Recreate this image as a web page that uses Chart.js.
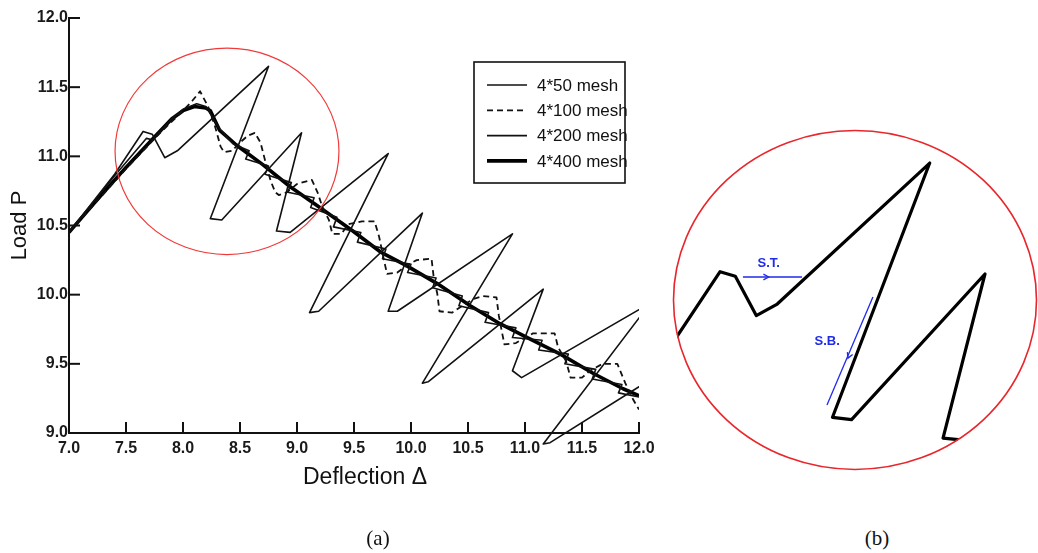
<!DOCTYPE html>
<html><head><meta charset="utf-8">
<script src="https://cdn.jsdelivr.net/npm/chart.js@4.4.1/dist/chart.umd.min.js"></script>
<style>
html,body{margin:0;padding:0;background:#fff;}
#wrap{position:relative;width:1038px;height:553px;overflow:hidden;background:#fff;}
#c1{position:absolute;left:0;top:0;}
#c2{position:absolute;left:660px;top:120px;}
.lab{position:absolute;top:526px;font-family:'Liberation Serif','Times New Roman',serif;font-size:21px;color:#111;width:60px;text-align:center;}
</style></head><body>
<div id="wrap">
<canvas id="c1" width="700" height="553"></canvas>
<canvas id="c2" width="378" height="360"></canvas>
<div class="lab" style="left:348px">(a)</div>
<div class="lab" style="left:847px">(b)</div>
</div>
<script>
// ---------- data ----------
const xTickLabels = ['7.0','7.5','8.0','8.5','9.0','9.5','10.0','10.5','11.0','11.5','12.0'];
const yTickLabels = ['9.0','9.5','10.0','10.5','11.0','11.5','12.0'];
const seriesNames = ['4*50 mesh','4*100 mesh','4*200 mesh','4*400 mesh'];
const xTitle = 'Deflection Δ';
const yTitle = 'Load P';

const mesh50 = [[7.0,10.45],[7.40,10.87],[7.65,11.18],[7.73,11.16],[7.84,10.99],[7.95,11.04],[8.75,11.65],
  [8.24,10.55],[8.34,10.54],[9.04,11.17],[8.82,10.46],[8.94,10.45],[9.80,11.02],[9.11,9.87],[9.19,9.88],
  [10.10,10.59],[9.80,9.88],[9.88,9.88],[10.89,10.44],[10.10,9.36],[10.15,9.37],[11.16,10.04],[10.89,9.45],
  [10.97,9.40],[12.10,9.94],[11.16,8.92],[11.22,8.93],[12.05,9.36]];

const mesh100 = [[7.0,10.45],[7.5,10.91],[7.8,11.17],[8.0,11.33],[8.08,11.40],[8.15,11.47],[8.22,11.36],[8.28,11.22],
  [8.33,11.07],[8.36,11.03],[8.43,11.04],[8.50,11.10],[8.57,11.15],[8.63,11.17],[8.68,11.10],[8.72,10.97],[8.77,10.82],
  [8.81,10.74],[8.84,10.72],[8.91,10.74],[9.0,10.80],[9.13,10.83],[9.18,10.74],[9.22,10.64],[9.28,10.54],[9.31,10.44],
  [9.39,10.44],[9.45,10.51],[9.57,10.53],[9.68,10.53],[9.72,10.42],[9.76,10.26],[9.79,10.15],[9.88,10.16],[9.96,10.21],
  [10.05,10.25],[10.18,10.26],[10.20,10.12],[10.23,10.01],[10.25,9.88],[10.36,9.87],[10.45,9.92],[10.55,9.97],[10.63,9.99],
  [10.75,9.98],[10.77,9.85],[10.80,9.72],[10.82,9.64],[10.92,9.65],[10.98,9.68],[11.07,9.72],[11.26,9.72],[11.29,9.62],
  [11.36,9.52],[11.40,9.40],[11.50,9.40],[11.57,9.45],[11.68,9.50],[11.81,9.50],[11.88,9.36],[11.95,9.24],[12.0,9.17]];

const mesh200 = [[7.0,10.45],[7.4,10.86],[7.68,11.13],[7.73,11.12],[7.9,11.27],[8.0,11.34],[8.12,11.38],[8.2,11.36],
  [8.32,11.20],[8.44,11.09],[8.58,11.04],[8.55,10.98],[8.75,10.93],[8.72,10.87],[8.95,10.81],[8.92,10.74],[9.15,10.70],
  [9.12,10.63],[9.35,10.56],[9.32,10.49],[9.56,10.45],[9.53,10.38],[9.78,10.33],[9.75,10.26],[10.0,10.22],[9.97,10.16],
  [10.22,10.12],[10.19,10.05],[10.45,9.99],[10.42,9.92],[10.68,9.87],[10.65,9.80],[10.92,9.76],[10.89,9.69],[11.15,9.67],
  [11.12,9.60],[11.38,9.57],[11.35,9.50],[11.62,9.46],[11.59,9.39],[11.85,9.35],[11.82,9.29],[12.0,9.26]];

const mesh400 = [[7.0,10.45],[7.25,10.69],[7.5,10.92],[7.75,11.14],[7.9,11.27],[8.0,11.33],[8.1,11.36],[8.2,11.35],
  [8.24,11.33],[8.32,11.19],[8.47,11.08],[8.70,10.94],[8.94,10.78],[9.2,10.63],[9.49,10.46],[9.73,10.31],[9.96,10.21],
  [10.23,10.08],[10.52,9.92],[10.78,9.79],[11.02,9.69],[11.31,9.57],[11.6,9.43],[11.86,9.32],[12.0,9.27]];

// magnified region (red circle): centre and radii in data units
const zoomCenter = [8.386, 11.036];
const zoomRadius = [0.982, 0.746];
// panel (b) window
const zoomXRange = [7.403, 9.313];
const zoomYRange = [10.322, 11.793];
// panel (b) annotations (data units)
const stLine = [[7.770,11.157],[8.080,11.157]];
const stArrow = [7.905,11.157];
const stText = [7.905,11.215];
const sbLine = [[8.452,11.070],[8.211,10.603]];
const sbArrow = [8.321,10.806];
const sbText = [8.212,10.880];

const toXY = arr => arr.map(p => ({x:p[0], y:p[1]}));
const FONT = "'Liberation Sans', Arial, Helvetica, sans-serif";
Chart.defaults.font.family = FONT;
Chart.defaults.color = '#111';

// ---------- plugins ----------
const inwardTicks = {
  id:'inwardTicks',
  afterDraw(chart, args, o){
    const {ctx, chartArea:a, scales:{x,y}} = chart;
    ctx.save(); ctx.strokeStyle='#111'; ctx.lineWidth=2;
    x.ticks.forEach(t=>{const p=x.getPixelForValue(t.value); ctx.beginPath(); ctx.moveTo(p,a.bottom); ctx.lineTo(p,a.bottom-o.len); ctx.stroke();});
    y.ticks.forEach(t=>{const p=y.getPixelForValue(t.value); ctx.beginPath(); ctx.moveTo(a.left,p); ctx.lineTo(a.left+o.len,p); ctx.stroke();});
    ctx.restore();
  }
};
const xAxisTitle = {
  id:'xAxisTitle',
  afterDraw(chart, args, o){
    const {ctx, chartArea:a} = chart;
    ctx.save(); ctx.fillStyle='#111'; ctx.font=o.size+'px '+FONT;
    ctx.textAlign='center'; ctx.textBaseline='middle';
    ctx.fillText(o.text, (a.left+a.right)/2 + o.dx, a.bottom + o.dy);
    ctx.restore();
  }
};
const redCircle = {
  id:'redCircle',
  afterDatasetsDraw(chart, args, o){
    const {ctx, scales:{x,y}} = chart;
    const cx=x.getPixelForValue(zoomCenter[0]), cy=y.getPixelForValue(zoomCenter[1]);
    const rx=Math.abs(x.getPixelForValue(zoomCenter[0]+zoomRadius[0])-cx);
    const ry=Math.abs(y.getPixelForValue(zoomCenter[1]+zoomRadius[1])-cy);
    ctx.save(); ctx.strokeStyle=o.color; ctx.lineWidth=o.width;
    ctx.beginPath(); ctx.ellipse(cx,cy,rx,ry,0,0,Math.PI*2); ctx.stroke(); ctx.restore();
  }
};
const boxLegend = {
  id:'boxLegend',
  afterDraw(chart, args, o){
    const {ctx} = chart;
    ctx.save();
    ctx.strokeStyle='#111'; ctx.lineWidth=1.6;
    ctx.strokeRect(o.left, o.top, o.width, o.height);
    ctx.font = o.fontSize+'px '+FONT; ctx.fillStyle='#111'; ctx.textBaseline='middle'; ctx.textAlign='left';
    chart.data.datasets.forEach((ds,i)=>{
      const yy = o.top + o.firstRow + i*o.rowGap;
      ctx.save();
      ctx.strokeStyle=ds.borderColor; ctx.lineWidth=ds.borderWidth;
      ctx.setLineDash(ds.borderDash||[]);
      ctx.beginPath(); ctx.moveTo(o.left+o.sampleX, yy); ctx.lineTo(o.left+o.sampleX+o.sampleW, yy); ctx.stroke();
      ctx.restore();
      ctx.fillText(ds.label, o.left+o.textX, yy+1);
    });
    ctx.restore();
  }
};

// ---------- panel (a) ----------
new Chart(document.getElementById('c1'), {
  type:'line',
  data:{ datasets:[
    {label:seriesNames[0], data:toXY(mesh50), borderColor:'#111', borderWidth:1.6, clip:{left:0,top:0,right:0,bottom:15}},
    {label:seriesNames[1], data:toXY(mesh100), borderColor:'#111', borderWidth:1.8, borderDash:[6,4]},
    {label:seriesNames[2], data:toXY(mesh200), borderColor:'#111', borderWidth:1.6},
    {label:seriesNames[3], data:toXY(mesh400), borderColor:'#000', borderWidth:3.6}
  ]},
  options:{
    responsive:false, animation:false, devicePixelRatio:1,
    elements:{point:{radius:0}, line:{tension:0, borderJoinStyle:'round'}},
    layout:{padding:{left:0, top:18, right:61, bottom:60}},
    plugins:{legend:{display:false}, tooltip:{enabled:false},
      inwardTicks:{len:11},
      xAxisTitle:{text:xTitle, size:23, dx:11, dy:45},
      redCircle:{color:'#f03a3a', width:1.2},
      boxLegend:{left:474, top:62, width:151, height:121, firstRow:23, rowGap:25.3, sampleX:13, sampleW:40, textX:63, fontSize:17}
    },
    scales:{
      x:{type:'linear', min:7, max:12,
        afterFit:s=>{s.height=60;},
        grid:{display:false, drawTicks:false},
        border:{display:true, color:'#111', width:2},
        ticks:{stepSize:0.5, padding:6, maxRotation:0, autoSkip:false, font:{size:16, weight:'bold'}, color:'#1a1a1a',
          callback:(v,i)=>xTickLabels[i]},
        title:{display:false}
      },
      y:{type:'linear', min:9, max:12,
        afterFit:s=>{s.width=69;},
        grid:{display:false, drawTicks:false},
        border:{display:true, color:'#111', width:2},
        ticks:{stepSize:0.5, padding:1, autoSkip:false, font:{size:16, weight:'bold'}, color:'#1a1a1a',
          callback:(v,i)=>yTickLabels[i]},
        title:{display:true, text:yTitle, font:{size:22}, color:'#111', padding:{top:7,bottom:0}}
      }
    }
  },
  plugins:[inwardTicks, redCircle, boxLegend, xAxisTitle]
});

// ---------- panel (b) ----------
function ellipseOf(chart){
  const a = chart.chartArea;
  return {cx:(a.left+a.right)/2, cy:(a.top+a.bottom)/2, rx:(a.right-a.left)/2, ry:(a.bottom-a.top)/2};
}
const clipEllipse = {
  id:'clipEllipse',
  beforeDatasetsDraw(chart){
    const {ctx} = chart; const e = ellipseOf(chart);
    ctx.save(); ctx.beginPath(); ctx.ellipse(e.cx,e.cy,e.rx,e.ry,0,0,Math.PI*2); ctx.clip();
  },
  afterDatasetsDraw(chart, args, o){
    const {ctx} = chart; ctx.restore();
    const e = ellipseOf(chart);
    ctx.save(); ctx.strokeStyle=o.color; ctx.lineWidth=o.width;
    ctx.beginPath(); ctx.ellipse(e.cx,e.cy,e.rx-0.5,e.ry-0.5,0,0,Math.PI*2); ctx.stroke(); ctx.restore();
  }
};
function arrowHead(ctx, x, y, ang, s){
  ctx.beginPath();
  ctx.moveTo(x - s*Math.cos(ang-0.5), y - s*Math.sin(ang-0.5));
  ctx.lineTo(x, y);
  ctx.lineTo(x - s*Math.cos(ang+0.5), y - s*Math.sin(ang+0.5));
  ctx.stroke();
}
const blueNotes = {
  id:'blueNotes',
  afterDraw(chart, args, o){
    const {ctx, scales:{x,y}} = chart;
    const P = p => [x.getPixelForValue(p[0]), y.getPixelForValue(p[1])];
    ctx.save(); ctx.strokeStyle=o.color; ctx.fillStyle=o.color; ctx.lineWidth=1.3;
    [[stLine, stArrow],[sbLine, sbArrow]].forEach(([ln, ar])=>{
      const a=P(ln[0]), b=P(ln[1]);
      ctx.beginPath(); ctx.moveTo(a[0],a[1]); ctx.lineTo(b[0],b[1]); ctx.stroke();
      const ang = Math.atan2(b[1]-a[1], b[0]-a[0]); const h=P(ar);
      arrowHead(ctx, h[0], h[1], ang, 6);
    });
    ctx.font = 'bold 13px '+FONT; ctx.textAlign='center'; ctx.textBaseline='middle';
    let t=P(stText); ctx.fillText('S.T.', t[0], t[1]);
    t=P(sbText); ctx.fillText('S.B.', t[0], t[1]);
    ctx.restore();
  }
};
new Chart(document.getElementById('c2'), {
  type:'line',
  data:{ datasets:[{label:seriesNames[0], data:toXY(mesh50), borderColor:'#000', borderWidth:3.2}] },
  options:{
    responsive:false, animation:false, devicePixelRatio:1,
    elements:{point:{radius:0}, line:{tension:0, borderJoinStyle:'round'}},
    layout:{padding:{left:13, top:10, right:1, bottom:10}},
    plugins:{legend:{display:false}, tooltip:{enabled:false},
      clipEllipse:{color:'#e8262b', width:1.6}, blueNotes:{color:'#1f2be8'}},
    scales:{
      x:{type:'linear', display:false, min:zoomXRange[0], max:zoomXRange[1]},
      y:{type:'linear', display:false, min:zoomYRange[0], max:zoomYRange[1]}
    }
  },
  plugins:[clipEllipse, blueNotes]
});
</script>
</body></html>
